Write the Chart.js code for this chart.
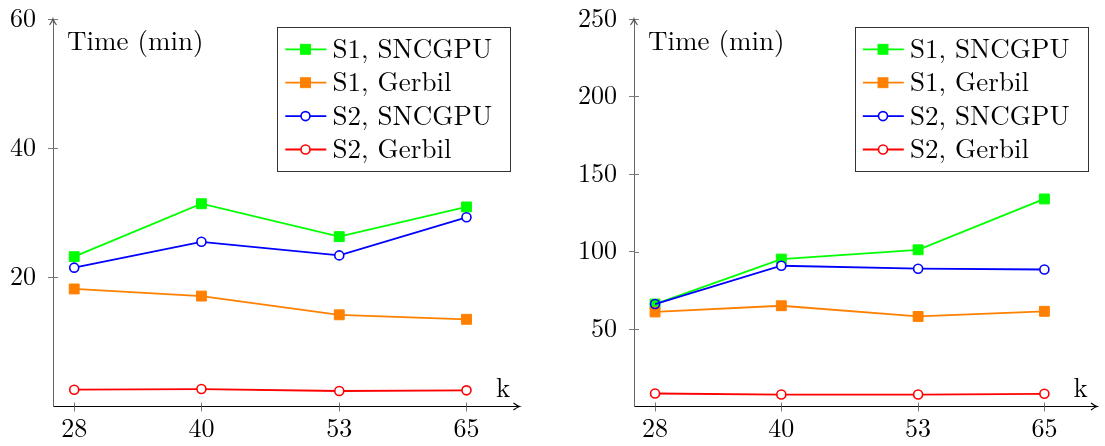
<!DOCTYPE html>
<html>
<head>
<meta charset="utf-8">
<script src="https://cdn.jsdelivr.net/npm/chart.js@4"></script>
<style>
  body { margin: 0; background: #fff; }
  #wrap { display: flex; width: 1105px; height: 446px; }
  .box { position: relative; height: 446px; }
</style>
</head>
<body>
<div id="wrap">
  <div class="box" style="width:552px"><canvas id="left"></canvas></div>
  <div class="box" style="width:553px"><canvas id="right"></canvas></div>
</div>
<script>
// data
const kValues = [28, 40, 53, 65];
const seriesNames = ['S1, SNCGPU', 'S1, Gerbil', 'S2, SNCGPU', 'S2, Gerbil'];

const leftS1Sncgpu = [23.2, 31.4, 26.3, 30.9];
const leftS1Gerbil = [18.2, 17.1, 14.2, 13.5];
const leftS2Sncgpu = [21.5, 25.5, 23.4, 29.3];
const leftS2Gerbil = [2.6, 2.7, 2.4, 2.5];

const rightS1Sncgpu = [66.1, 95.1, 101.1, 133.9];
const rightS1Gerbil = [61.0, 65.0, 58.1, 61.4];
const rightS2Sncgpu = [66.1, 90.8, 88.9, 88.4];
const rightS2Gerbil = [8.4, 7.7, 7.7, 8.2];

const xTicks = [28, 40, 53, 65];
const leftYTicks = [20, 40, 60];
const rightYTicks = [50, 100, 150, 200, 250];

const colors = ['#00ff00', '#ff8000', '#0000ff', '#ff0000'];
const FONT = "'Latin Modern Roman', 'Liberation Serif', serif";

function pts(vals) {
  return kValues.map((k, i) => ({ x: k, y: vals[i] }));
}

function drawMarker(ctx, ds, x, y) {
  ctx.save();
  ctx.lineWidth = ds.pointBorderWidth;
  ctx.strokeStyle = ds.borderColor;
  if (ds.pointStyle === 'rect') {
    const s = ds.pointRadius * Math.SQRT1_2;
    ctx.fillStyle = ds.borderColor;
    ctx.fillRect(x - s, y - s, 2 * s, 2 * s);
    ctx.strokeRect(x - s, y - s, 2 * s, 2 * s);
  } else {
    ctx.fillStyle = '#fff';
    ctx.beginPath();
    ctx.arc(x, y, ds.pointRadius, 0, Math.PI * 2);
    ctx.fill();
    ctx.stroke();
  }
  ctx.restore();
}

const decor = {
  id: 'decor',
  afterDraw(chart) {
    const ctx = chart.ctx;
    const a = chart.chartArea;
    const xs = chart.scales.x, ys = chart.scales.y;
    ctx.save();

    // inner halves of tick marks
    ctx.strokeStyle = '#7a7a7a';
    ctx.lineWidth = 1;
    ys.ticks.forEach(t => {
      const py = Math.round(ys.getPixelForValue(t.value)) + 0.5;
      ctx.beginPath(); ctx.moveTo(a.left, py); ctx.lineTo(a.left + 5, py); ctx.stroke();
    });
    xs.ticks.forEach(t => {
      const px = Math.round(xs.getPixelForValue(t.value)) + 0.5;
      ctx.beginPath(); ctx.moveTo(px, a.bottom); ctx.lineTo(px, a.bottom - 4); ctx.stroke();
    });

    // arrow heads
    ctx.lineWidth = 1.2;
    ctx.strokeStyle = '#555';
    ctx.beginPath();
    ctx.moveTo(a.left - 3.5, a.top + 6);
    ctx.quadraticCurveTo(a.left - 0.5, a.top + 2, a.left, a.top);
    ctx.quadraticCurveTo(a.left + 0.5, a.top + 2, a.left + 3.5, a.top + 6);
    ctx.stroke();
    ctx.strokeStyle = '#000';
    ctx.beginPath();
    ctx.moveTo(a.right - 6, a.bottom - 3.5);
    ctx.quadraticCurveTo(a.right - 2, a.bottom - 0.5, a.right, a.bottom);
    ctx.quadraticCurveTo(a.right - 2, a.bottom + 0.5, a.right - 6, a.bottom + 3.5);
    ctx.stroke();

    // axis labels
    ctx.fillStyle = '#000';
    ctx.font = '27px ' + FONT;
    ctx.textBaseline = 'alphabetic';
    ctx.textAlign = 'left';
    ctx.fillText('Time (min)', a.left + 14, a.top + 31);
    ctx.fillText('k', a.right - 23.5, a.bottom - 10);

    // legend box
    const w = 233, h = 144.4;
    const bx = a.right - 9.5 - w, by = a.top + 8.3;
    ctx.fillStyle = '#fff';
    ctx.fillRect(bx, by, w, h);
    ctx.strokeStyle = '#333';
    ctx.lineWidth = 1;
    ctx.strokeRect(Math.round(bx) + 0.5, Math.round(by) + 0.5, Math.round(w), Math.round(h));
    chart.data.datasets.forEach((ds, i) => {
      const ry = by + 22 + i * 33.4;
      ctx.strokeStyle = ds.borderColor;
      ctx.lineWidth = ds.borderWidth;
      ctx.beginPath(); ctx.moveTo(bx + 8.3, ry); ctx.lineTo(bx + 49.3, ry); ctx.stroke();
      drawMarker(ctx, ds, bx + 28.5, ry);
      ctx.fillStyle = '#000';
      ctx.fillText(ds.label, bx + 55.6, ry + 8.5);
    });
    ctx.restore();
  }
};

function makeChart(id, series, yMax, yTicks, yWidth, padRight, blueFirstBg) {
  const datasets = series.map((vals, i) => {
    const square = i < 2;
    let bg = square ? colors[i] : '#fff';
    if (i === 2 && blueFirstBg) bg = ['rgba(0,0,0,0)', '#fff', '#fff', '#fff'];
    return {
      label: seriesNames[i],
      data: pts(vals),
      borderColor: colors[i],
      backgroundColor: colors[i],
      borderWidth: 1.8,
      pointStyle: square ? 'rect' : 'circle',
      pointRadius: square ? 7 : 4.5,
      pointBorderWidth: square ? 1 : 1.6,
      pointBorderColor: colors[i],
      pointBackgroundColor: bg,
      tension: 0,
      clip: false,
      order: 3 - i
    };
  });

  return new Chart(document.getElementById(id), {
    type: 'line',
    data: { datasets: datasets },
    options: {
      responsive: true,
      maintainAspectRatio: false,
      animation: false,
      events: [],
      layout: { padding: { top: 19, right: padRight, left: 0, bottom: 0 } },
      plugins: { legend: { display: false }, tooltip: { enabled: false } },
      scales: {
        x: {
          type: 'linear',
          min: 26, max: 70,
          afterBuildTicks: s => { s.ticks = xTicks.map(v => ({ value: v })); },
          afterFit: s => { s.height = 39.5; s.paddingLeft = 0; s.paddingRight = 0; },
          grid: { drawOnChartArea: false, tickLength: 5, color: '#7a7a7a' },
          border: { color: '#000', width: 1 },
          ticks: { color: '#000', padding: 2, font: { family: FONT, size: 26 } }
        },
        y: {
          min: 0, max: yMax,
          afterBuildTicks: s => { s.ticks = yTicks.map(v => ({ value: v })); },
          afterFit: s => { s.width = yWidth; s.paddingTop = 0; s.paddingBottom = 0; },
          grid: { drawOnChartArea: false, tickLength: 5, color: '#7a7a7a' },
          border: { color: '#666', width: 1 },
          ticks: { color: '#000', padding: 12, font: { family: FONT, size: 26 } }
        }
      }
    },
    plugins: [decor]
  });
}

makeChart('left', [leftS1Sncgpu, leftS1Gerbil, leftS2Sncgpu, leftS2Gerbil], 60, leftYTicks, 53, 32.5, false);
makeChart('right', [rightS1Sncgpu, rightS1Gerbil, rightS2Sncgpu, rightS2Gerbil], 250, rightYTicks, 82, 4.4, true);
</script>
</body>
</html>
